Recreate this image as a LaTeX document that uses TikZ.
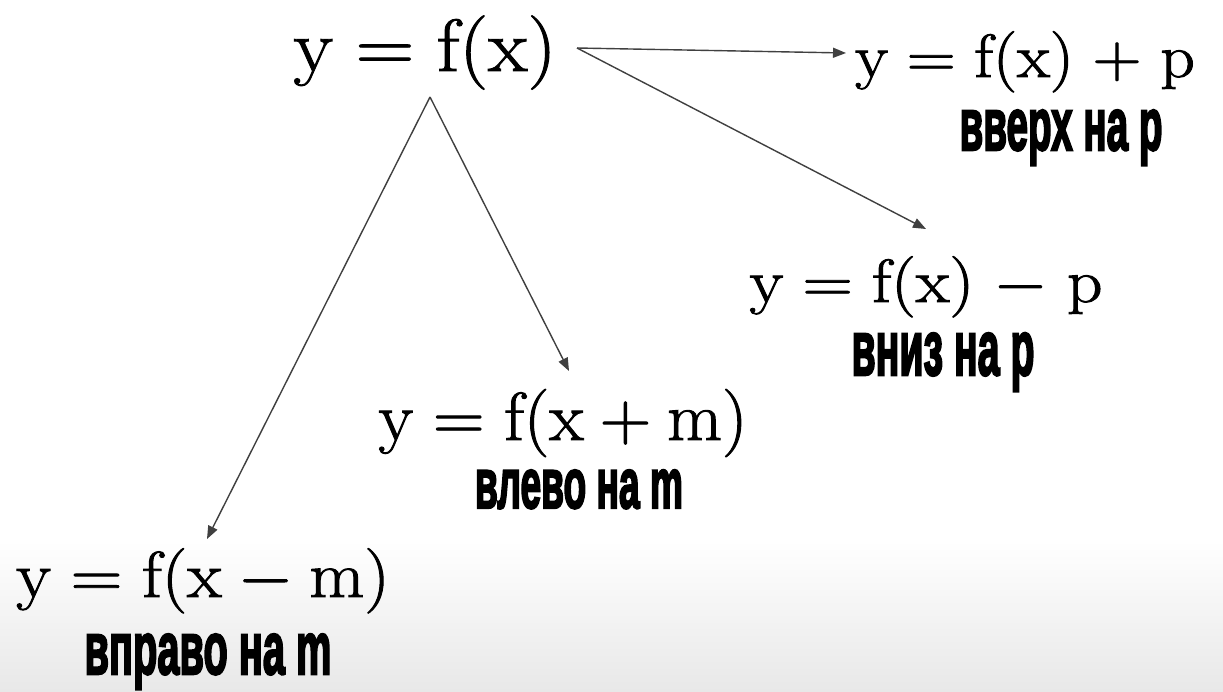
\RequirePackage{fix-cm}
\documentclass[tikz,border=0pt]{standalone}
\usepackage{fontspec}
\usepackage{graphicx}
\usetikzlibrary{arrows.meta}
\newfontface\lab{Liberation Sans Bold}[FakeBold=3.5]
% #1 size, #2 horizontal stretch, #3 medmuskip (mu), #4 formula
\newcommand\fm[4]{\scalebox{#2}[1]{\fontsize{#1}{#1}\selectfont\medmuskip=#3mu\special{pdf:literal direct 2 Tr 0.9 w}$#4$\special{pdf:literal direct 0 Tr}}}
\newcommand\lb[3]{\resizebox{#1pt}{#2pt}{\lab #3}}
\tikzset{
  fml/.style={anchor=base,inner sep=0pt,text=black},
  lbl/.style={anchor=base,inner sep=0pt,text=black},
  arr/.style={draw=black!75,line width=1.4pt,-{Triangle[length=13pt,width=10pt]}}
}
\begin{document}
\begin{tikzpicture}[x=1pt,y=-1pt]
\useasboundingbox (0,0) rectangle (1223,691);
\fill[white] (0,0) rectangle (1223,691);
\shade[top color=white,bottom color=black!9] (0,540) rectangle (1223,691);

\node[fml] (f0) at (425,71) {\fm{74}{1.10}{4}{\mathrm{y}=\mathrm{f}(\mathrm{x})}};
\node[fml] (f1) at (1025,77) {\fm{61}{1.11}{5}{\mathrm{y}=\mathrm{f}(\mathrm{x})+\mathrm{p}}};
\node[fml] (f2) at (926,302) {\fm{61}{1.14}{5}{\mathrm{y}=\mathrm{f}(\mathrm{x})-\mathrm{p}}};
\node[fml] (f3) at (563,440) {\fm{68}{1.05}{4}{\mathrm{y}=\mathrm{f}(\mathrm{x}+\mathrm{m})}};
\node[fml] (f4) at (203,597) {\fm{65}{1.10}{4}{\mathrm{y}=\mathrm{f}(\mathrm{x}-\mathrm{m})}};

\node[lbl] (l1) at (1061,150) {\lb{203}{40}{вверх на p}};
\node[lbl] (l2) at (943,375) {\lb{183}{42}{вниз на p}};
\node[lbl] (l3) at (579,508) {\lb{208}{38}{влево на m}};
\node[lbl] (l4) at (208,674) {\lb{247}{40}{вправо на m}};

\coordinate (apex) at (430,97);
\coordinate (rs) at (577,48);
\coordinate (t1) at (846,53);
\coordinate (t2) at (926,229);
\coordinate (t3) at (569,371);
\coordinate (t4) at (207,539);

\draw[arr] (rs) -- (t1);
\draw[arr] (rs) -- (t2);
\draw[arr] (apex) -- (t3);
\draw[arr] (apex) -- (t4);
\end{tikzpicture}
\end{document}
